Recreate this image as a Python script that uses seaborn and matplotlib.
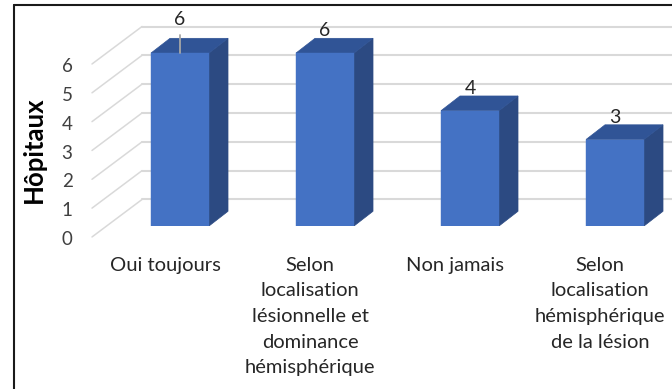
# Import necessary libraries
import matplotlib
matplotlib.use('Agg')
import matplotlib.pyplot as plt
import matplotlib.transforms as mtrans
import pandas as pd
import seaborn as sns

# Chart values
categories = [
    'Oui toujours',
    'Selon\nlocalisation\nlésionnelle et\ndominance\nhémisphérique',
    'Non jamais',
    'Selon\nlocalisation\nhémisphérique\nde la lésion',
]
hospitals = [6, 6, 4, 3]
y_ticks = [0, 1, 2, 3, 4, 5, 6]

# Colours
front_color = '#4472C4'
side_color = '#2C4A82'
top_color = '#305496'
grid_color = '#D9D9D9'
text_color = '#262626'

# Fake 3D depth, in data units
depth_x = 0.131
depth_y = 0.51
wall_x = -0.262
floor_x = -0.607

sns.set_style('white')
plt.rcParams['font.family'] = ['Lato', 'DejaVu Sans']

W, H = 672, 389
fig = plt.figure(figsize=(W / 100, H / 100), dpi=100)
ax = fig.add_axes([92 / W, (H - 226) / H, 580 / W, 221 / H])

df = pd.DataFrame({'category': categories, 'hospitals': hospitals})
sns.barplot(data=df, x='category', y='hospitals', color=front_color, saturation=1,
            width=0.4, ax=ax, zorder=3.2, edgecolor=front_color, linewidth=0.3)

ax.set_xlim(floor_x, 3.393)
ax.set_ylim(0, 7.666)
sns.despine(ax=ax, left=True, bottom=True)

# Back wall and side wall grid
for v in y_ticks:
    ax.plot([wall_x, 3.393], [v + 0.92, v + 0.92], color=grid_color, lw=1.5, zorder=1, clip_on=False)
    ax.plot([floor_x, wall_x], [v - 0.38, v + 0.92], color=grid_color, lw=1.1, zorder=1, clip_on=False)

# Side and top faces built from the seaborn bars
for bar in ax.patches[:len(hospitals)]:
    x0, x1 = bar.get_x(), bar.get_x() + bar.get_width()
    h = bar.get_height()
    ax.fill([x1, x1 + depth_x, x1 + depth_x, x1], [0, depth_y, h + depth_y, h], color=side_color, lw=0.5, zorder=3)
    ax.fill([x0, x1, x1 + depth_x, x0 + depth_x], [h, h, h + depth_y, h + depth_y], color=top_color, lw=0.5, zorder=3)

# Data labels, first one is pulled up with a leader line
for i, h in enumerate(hospitals):
    lift = 1.18 if i == 0 else 0.78
    ax.text(i, h + lift, str(h), ha='center', va='center', fontsize=14, color=text_color, zorder=5, clip_on=False)
ax.plot([0, 0], [hospitals[0], hospitals[0] + 0.62], color='#A6A6A6', lw=1.3, zorder=4)

# Axis text
ax.set_yticks(y_ticks)
ax.set_xlabel('')
ax.set_ylabel('Hôpitaux', fontsize=18.5, fontweight='bold', color='black')
ax.yaxis.set_label_coords((46 - 92) / 580, (226 - 150) / 221)
ax.tick_params(axis='y', length=0, pad=14, labelsize=13.5, labelcolor='#404040')
ax.tick_params(axis='x', length=0, pad=22, labelsize=14.5, labelcolor=text_color)

# Tick labels sit at the front of the floor, not at the bar plane
shift_y = mtrans.ScaledTranslation(0, -12 / 100, fig.dpi_scale_trans)
shift_x = mtrans.ScaledTranslation(-15 / 100, 0, fig.dpi_scale_trans)
for label in ax.get_yticklabels():
    label.set_transform(label.get_transform() + shift_y)
for label in ax.get_xticklabels():
    label.set_transform(label.get_transform() + shift_x)
    label.set_linespacing(1.62)
    label.set_ha('center')

# Picture border, only left and top are visible
fig.add_artist(plt.Line2D([14 / W, 14 / W], [0, (H - 5) / H], color='#1a1a1a', lw=1.5))
fig.add_artist(plt.Line2D([14 / W, 1], [(H - 5) / H, (H - 5) / H], color='#1a1a1a', lw=1.5))

plt.savefig('out.png', dpi=100)
